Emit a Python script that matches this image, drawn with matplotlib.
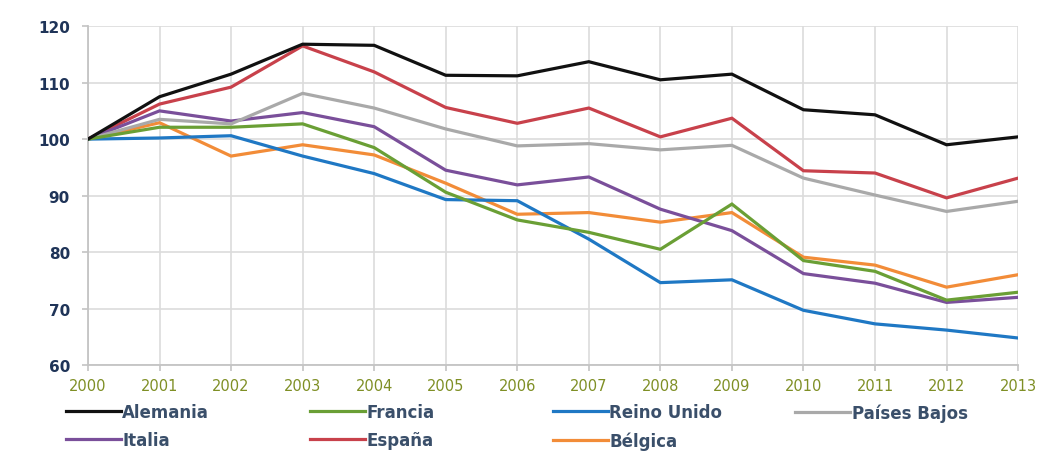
import matplotlib
matplotlib.use("Agg")
import matplotlib.pyplot as plt
from matplotlib.lines import Line2D

years = list(range(2000, 2014))

alemania = [100, 107.5, 111.5, 116.8, 116.6, 111.3, 111.2, 113.7, 110.5, 111.5, 105.2, 104.3, 99.0, 100.4]
francia = [100, 102.1, 102.1, 102.7, 98.5, 90.6, 85.7, 83.5, 80.5, 88.5, 78.5, 76.6, 71.5, 72.9]
reino_unido = [100, 100.2, 100.6, 97.0, 93.9, 89.3, 89.1, 82.3, 74.6, 75.1, 69.7, 67.3, 66.2, 64.8]
paises_bajos = [100, 103.5, 102.7, 108.1, 105.5, 101.8, 98.8, 99.2, 98.1, 98.9, 93.1, 90.1, 87.2, 89.0]
italia = [100, 105.0, 103.2, 104.7, 102.2, 94.5, 91.9, 93.3, 87.6, 83.8, 76.2, 74.5, 71.1, 72.0]
espana = [100, 106.2, 109.2, 116.5, 111.9, 105.6, 102.8, 105.5, 100.4, 103.7, 94.4, 94.0, 89.6, 93.1]
belgica = [100, 102.9, 97.0, 99.0, 97.2, 92.2, 86.7, 87.0, 85.3, 87.0, 79.1, 77.7, 73.8, 76.0]

series = [
    ("Alemania", alemania, "#111111"),
    ("Francia", francia, "#6a9f35"),
    ("Reino Unido", reino_unido, "#1f78c4"),
    ("Países Bajos", paises_bajos, "#a9a9a9"),
    ("Italia", italia, "#7a4f9a"),
    ("España", espana, "#c8414b"),
    ("Bélgica", belgica, "#f28c38"),
]

fig = plt.figure(figsize=(10.41, 4.52), dpi=100)
ax = fig.add_axes([0.0845, 0.19, 0.8935, 0.75])

lines = {}
# draw back to front so the top series sit over the lower ones
for name, vals, color in reversed(series):
    (ln,) = ax.plot(years, vals, color=color, lw=2.3, solid_joinstyle="miter", zorder=3)
    lines[name] = ln

ax.set_xlim(2000, 2013)
ax.set_ylim(60, 120)
ax.set_xticks(years)
ax.set_yticks(range(60, 121, 10))
ax.grid(True, color="#dcdcdc", lw=1.2, zorder=0)
ax.set_axisbelow(True)

for side in ("top", "right"):
    ax.spines[side].set_visible(False)
for side in ("left", "bottom"):
    ax.spines[side].set_color("#c4c4c4")
    ax.spines[side].set_linewidth(1.3)

ax.tick_params(axis="y", length=4, width=1.2, color="#c4c4c4", pad=9,
               labelsize=11, labelcolor="#1f3458")
ax.tick_params(axis="x", length=4, width=1.2, color="#c4c4c4", pad=5,
               labelsize=10.5, labelcolor="#7f8f25")
for lab in ax.get_yticklabels():
    lab.set_fontweight("bold")

# legend laid out as four evenly spaced columns
columns = [["Alemania", "Italia"], ["Francia", "España"], ["Reino Unido", "Bélgica"], ["Países Bajos"]]
col_x = [0.063, 0.298, 0.531, 0.764]
for x, names in zip(col_x, columns):
    handles = [Line2D([], [], color=lines[n].get_color(), lw=2.3) for n in names]
    leg = fig.legend(handles, names, loc="upper left", bbox_to_anchor=(x, 0.106),
                     frameon=False, handlelength=3.3, handletextpad=0.1,
                     labelspacing=0.6, borderpad=0, borderaxespad=0,
                     prop={"size": 12, "weight": "bold"})
    for t in leg.get_texts():
        t.set_color("#3a4f6a")

fig.savefig("out.png", dpi=100)
